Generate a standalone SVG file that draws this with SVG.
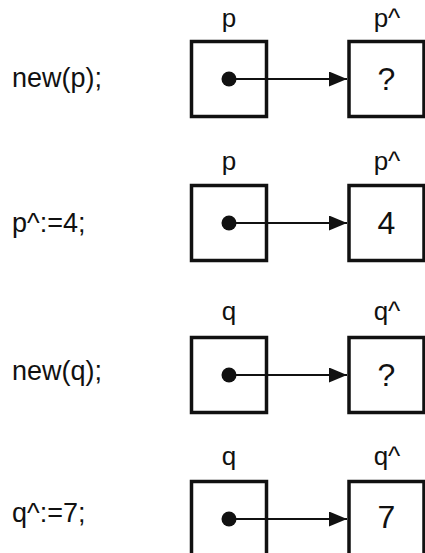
<svg xmlns="http://www.w3.org/2000/svg" width="425" height="553" viewBox="0 0 425 553">
  <style>
    .box { fill: #ffffff; stroke: #111111; stroke-width: 3.5; }
    .dot { fill: #111111; }
    .stmt { font-family: "Liberation Sans", Arial, sans-serif; font-size: 27px; fill: #111111; }
    .lbl { font-family: "Liberation Sans", Arial, sans-serif; font-size: 26px; fill: #111111; text-anchor: middle; }
    .val { font-family: "Liberation Sans", Arial, sans-serif; font-size: 32px; fill: #111111; text-anchor: middle; }
    .conn { stroke: #111111; stroke-width: 2; fill: none; }
  </style>
  <defs>
    <marker id="arrow" markerUnits="userSpaceOnUse" markerWidth="20" markerHeight="16" refX="18" refY="7.5" orient="auto">
      <path d="M0,0 L18,7.5 L0,15 Z" fill="#111111"/>
    </marker>
  </defs>
  <rect width="425" height="553" fill="#ffffff"/>

  <g id="row1">
    <text class="stmt" x="12" y="87">new(p);</text>
    <g id="p1">
      <text class="lbl" x="229" y="27">p</text>
      <rect class="box" x="191.5" y="41.5" width="75" height="75"/>
      <circle class="dot" cx="229" cy="79" r="7.5"/>
    </g>
    <g id="pt1">
      <text class="lbl" x="387" y="27">p^</text>
      <rect class="box" x="349" y="41.5" width="75" height="75"/>
      <text class="val" x="386.5" y="90">?</text>
    </g>
  </g>

  <g id="row2">
    <text class="stmt" x="12" y="232">p^:=4;</text>
    <g id="p2">
      <text class="lbl" x="229" y="170">p</text>
      <rect class="box" x="191.5" y="185.5" width="75" height="75"/>
      <circle class="dot" cx="229" cy="223" r="7.5"/>
    </g>
    <g id="pt2">
      <text class="lbl" x="387" y="170">p^</text>
      <rect class="box" x="349" y="185.5" width="75" height="75"/>
      <text class="val" x="386.5" y="234">4</text>
    </g>
  </g>

  <g id="row3">
    <text class="stmt" x="12" y="380">new(q);</text>
    <g id="q3">
      <text class="lbl" x="229" y="320">q</text>
      <rect class="box" x="191.5" y="337.5" width="75" height="75"/>
      <circle class="dot" cx="229" cy="375" r="7.5"/>
    </g>
    <g id="qt3">
      <text class="lbl" x="387" y="320">q^</text>
      <rect class="box" x="349" y="337.5" width="75" height="75"/>
      <text class="val" x="386.5" y="386">?</text>
    </g>
  </g>

  <g id="row4">
    <text class="stmt" x="12" y="522">q^:=7;</text>
    <g id="q4">
      <text class="lbl" x="229" y="465">q</text>
      <rect class="box" x="191.5" y="481.5" width="75" height="75"/>
      <circle class="dot" cx="229" cy="519" r="7.5"/>
    </g>
    <g id="qt4">
      <text class="lbl" x="387" y="465">q^</text>
      <rect class="box" x="349" y="481.5" width="75" height="75"/>
      <text class="val" x="386.5" y="528">7</text>
    </g>
  </g>

  <g id="connectors">
    <line class="conn" x1="229" y1="79" x2="347" y2="79" marker-end="url(#arrow)"/>
    <line class="conn" x1="229" y1="223" x2="347" y2="223" marker-end="url(#arrow)"/>
    <line class="conn" x1="229" y1="375" x2="347" y2="375" marker-end="url(#arrow)"/>
    <line class="conn" x1="229" y1="519" x2="347" y2="519" marker-end="url(#arrow)"/>
  </g>
</svg>
